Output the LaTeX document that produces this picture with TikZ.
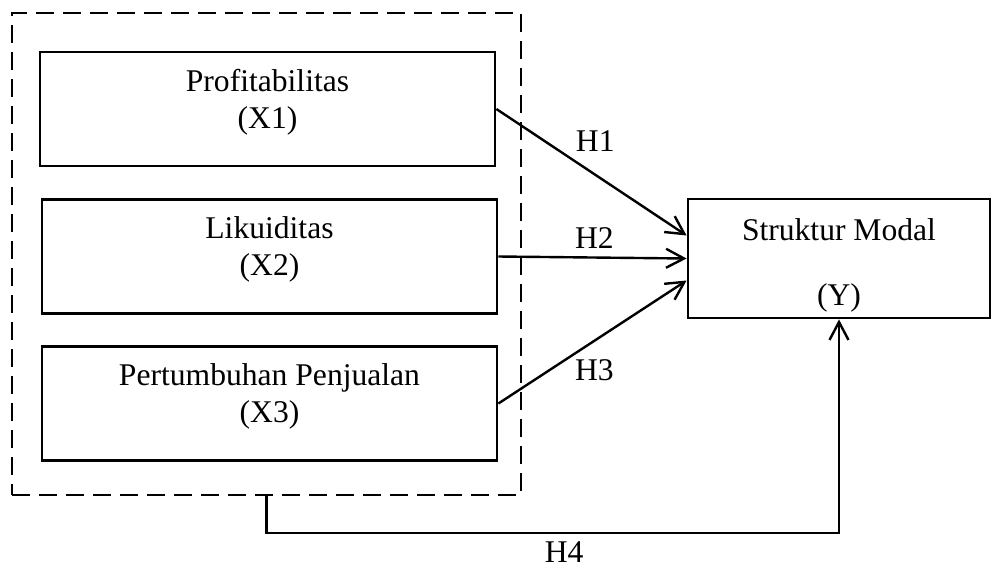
\documentclass[tikz,border=0pt]{standalone}
\usepackage{fontspec}
\setmainfont{Liberation Serif}
\usetikzlibrary{arrows.meta,positioning}

\begin{document}
\begin{tikzpicture}[x=0.5pt, y=-0.5pt,
  var/.style={draw, line width=1.4pt, minimum width=227.5pt, minimum height=57pt,
              align=center, text depth=10pt, font=\fontsize{15.8}{18.5}\selectfont},
  group/.style={draw, line width=1.2pt, dash pattern=on 9pt off 4.5pt,
                minimum width=254.5pt, minimum height=241pt},
  hyp/.style={font=\fontsize{15.8}{18.5}\selectfont, inner sep=2pt},
  arrow/.style={-{Straight Barb[length=9pt, width=9.5pt, line width=1.2pt]}, line width=1.2pt}
]
\useasboundingbox (0,0) rectangle (993,569);

%% Independent variables
\node[group] (grp) at (266.5,254) {};
\node[var] (x1) at (267.5,109) {Profitabilitas\\(X1)};
\node[var] (x2) at (269.5,256.5) {Likuiditas\\(X2)};
\node[var] (x3) at (269.5,403.5) {Pertumbuhan Penjualan\\(X3)};

%% Dependent variable
\node[var, minimum width=151pt, minimum height=59.5pt, text depth=0pt] (ymod) at (839,258.5)
  {\rule{0pt}{14pt}Struktur Modal\\[14pt](Y)};

%% Hypotheses
\draw[arrow] (x1.east) -- node[hyp, pos=0.52, above=9pt] {H1} ([yshift=11.5pt]ymod.west);
\draw[arrow] (x2.east) -- node[hyp, pos=0.51, above=2pt] {H2} (ymod.west);
\draw[arrow] (x3.east) -- node[hyp, pos=0.51, below=7pt] {H3} ([yshift=-11pt]ymod.west);
\draw[arrow] (grp.south) -- ++(0,37) -| node[hyp, pos=0.26, below=1.5pt] {H4} (ymod.south);

\end{tikzpicture}
\end{document}
